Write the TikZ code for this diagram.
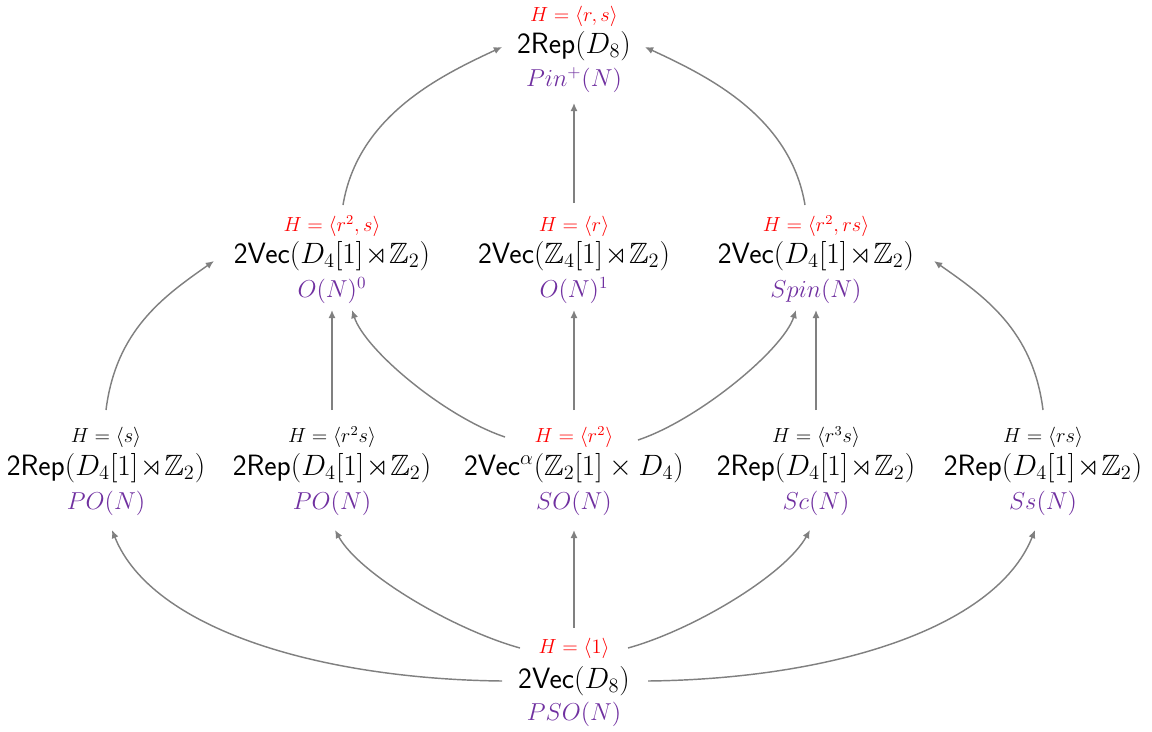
\documentclass[tikz,border=0pt]{standalone}
\usepackage{amssymb}
\usetikzlibrary{arrows.meta,calc}
\definecolor{hred}{RGB}{255,0,0}
\definecolor{hpurple}{RGB}{112,48,160}
\tikzset{
  lbl/.style={inner sep=0pt,font=\fontsize{12}{14}\selectfont},
  redlbl/.style={lbl,text=hred},
  mainlbl/.style={inner sep=0pt,font=\fontsize{17.28}{20}\selectfont},
  grplbl/.style={inner sep=0pt,font=\fontsize{14.4}{16}\selectfont,text=hpurple},
  conn/.style={draw=gray,line width=0.85pt,-{Latex[length=4.8pt,width=4.2pt]}}
}
\newcommand{\sRep}{\textsf{2Rep}}
\newcommand{\sVec}{\textsf{2Vec}}
\newcommand{\rtx}{\!\rtimes\!}
\begin{document}
\begin{tikzpicture}[x=0.588pt,y=-0.588pt]
\useasboundingbox (0,0) rectangle (1152,731);
% top
\node[redlbl] (Ht) at (574,16) {$H=\langle r,s\rangle$};
\node[mainlbl] (Mt) at (574,46) {\sRep$(D_8)$};
\node[grplbl] (Pt) at (574,80) {$Pin^{+}(N)$};
% row 2
\node[redlbl] (Ha) at (332,226) {$H=\langle r^2,s\rangle$};
\node[mainlbl] (Ma) at (332,256) {\sVec$(D_4[1]\rtx\mathbb{Z}_2)$};
\node[grplbl] (Pa) at (332,291) {$O(N)^0$};
\node[redlbl] (Hb) at (574,226) {$H=\langle r\rangle$};
\node[mainlbl] (Mb) at (574,256) {\sVec$(\mathbb{Z}_4[1]\rtx\mathbb{Z}_2)$};
\node[grplbl] (Pb) at (574,291) {$O(N)^1$};
\node[redlbl] (Hc) at (816,226) {$H=\langle r^2,rs\rangle$};
\node[mainlbl] (Mc) at (816,256) {\sVec$(D_4[1]\rtx\mathbb{Z}_2)$};
\node[grplbl] (Pc) at (816,291) {$Spin(N)$};
% row 3
\node[lbl] (H1) at (106,437) {$H=\langle s\rangle$};
\node[mainlbl] (M1) at (106,468) {\sRep$(D_4[1]\rtx\mathbb{Z}_2)$};
\node[grplbl] (P1) at (106,503) {$PO(N)$};
\node[lbl] (H2) at (332,437) {$H=\langle r^2s\rangle$};
\node[mainlbl] (M2) at (332,468) {\sRep$(D_4[1]\rtx\mathbb{Z}_2)$};
\node[grplbl] (P2) at (332,503) {$PO(N)$};
\node[redlbl] (H3) at (574,437) {$H=\langle r^2\rangle$};
\node[mainlbl] (M3) at (574,468) {\sVec$^{\alpha}(\mathbb{Z}_2[1]\times D_4)$};
\node[grplbl] (P3) at (574,503) {$SO(N)$};
\node[lbl] (H4) at (816,437) {$H=\langle r^3s\rangle$};
\node[mainlbl] (M4) at (816,468) {\sRep$(D_4[1]\rtx\mathbb{Z}_2)$};
\node[grplbl] (P4) at (816,503) {$Sc(N)$};
\node[lbl] (H5) at (1043,437) {$H=\langle rs\rangle$};
\node[mainlbl] (M5) at (1043,468) {\sRep$(D_4[1]\rtx\mathbb{Z}_2)$};
\node[grplbl] (P5) at (1043,503) {$Ss(N)$};
% bottom
\node[redlbl] (Hz) at (574,648) {$H=\langle 1\rangle$};
\node[mainlbl] (Mz) at (574,681) {\sVec$(D_8)$};
\node[grplbl] (Pz) at (574,714) {$PSO(N)$};
% connectors row2 -> top
\draw[conn] ($(Hb)+(0,-23)$) -- ($(Pt)+(0,23)$);
\draw[conn] ($(Ha)+(11,-21)$) .. controls +(15,-90) and +(-60,28) .. ($(Mt)+(-72,1)$);
\draw[conn] ($(Hc)+(-11,-21)$) .. controls +(-15,-90) and +(60,28) .. ($(Mt)+(71,1)$);
% row3 -> row2
\draw[conn] ($(H1)+(0,-27)$) .. controls +(10,-80) and +(-50,35) .. ($(Ma)+(-118,5)$);
\draw[conn] ($(H5)+(0,-27)$) .. controls +(-10,-80) and +(50,35) .. ($(Mc)+(118,5)$);
\draw[conn] ($(H2)+(0,-27)$) -- ($(Pa)+(0,19)$);
\draw[conn] ($(H3)+(0,-27)$) -- ($(Pb)+(0,19)$);
\draw[conn] ($(H4)+(0,-27)$) -- ($(Pc)+(0,19)$);
\draw[conn] ($(H3)+(-69,0)$) .. controls +(-60,-20) and +(13,40) .. ($(Pa)+(20,19)$);
\draw[conn] ($(H3)+(64,3)$) .. controls +(60,-20) and +(-13,40) .. ($(Pc)+(-20,19)$);
% bottom -> row3
\draw[conn] ($(Hz)+(0,-20)$) -- ($(P3)+(0,27)$);
\draw[conn] ($(Hz)+(-54,0)$) .. controls +(-65,-18) and +(25,45) .. ($(P2)+(3,27)$);
\draw[conn] ($(Hz)+(54,0)$) .. controls +(65,-18) and +(-25,45) .. ($(P4)+(-6,27)$);
\draw[conn] ($(Mz)+(-72,0)$) .. controls +(-180,-2) and +(40,100) .. ($(P1)+(6,27)$);
\draw[conn] ($(Mz)+(74,0)$) .. controls +(180,-2) and +(-40,100) .. ($(P5)+(-8,27)$);
\end{tikzpicture}
\end{document}
